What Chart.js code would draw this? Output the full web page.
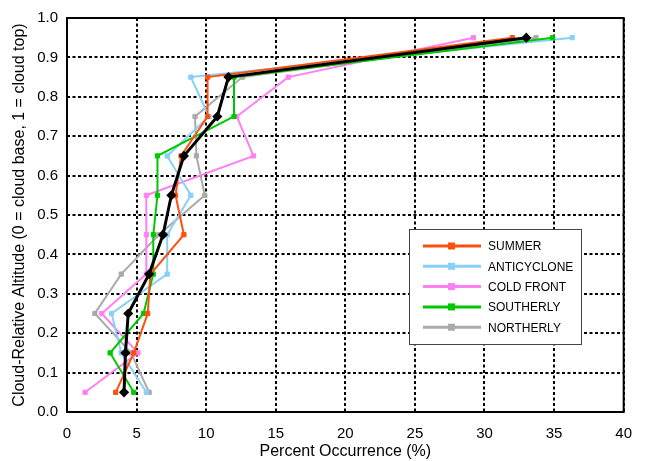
<!DOCTYPE html>
<html>
<head>
<meta charset="utf-8">
<script src="https://cdn.jsdelivr.net/npm/chart.js@4"></script>
<style>
  body { margin: 0; background: #fff; }
  canvas { display: block; }
</style>
</head>
<body>
<canvas id="profile" width="645" height="461"></canvas>
<script>
// altitude levels (cloud-relative), bin centres
const altitudes = [0.05, 0.15, 0.25, 0.35, 0.45, 0.55, 0.65, 0.75, 0.85, 0.95];

// percent occurrence per regime
const summer      = [3.5, 4.8, 5.8, 6.0, 8.4, 7.8, 8.2, 10.1, 10.1, 32.0];
const anticyclone = [5.7, 3.9, 3.2, 7.2, 7.2, 8.9, 7.2, 10.2, 8.9, 36.3];
const coldFront   = [1.3, 5.1, 2.5, 5.7, 5.7, 5.7, 13.4, 12.2, 15.9, 29.2];
const southerly   = [4.8, 3.1, 5.5, 6.2, 6.2, 6.5, 6.5, 12.0, 12.0, 34.9];
const northerly   = [5.9, 4.6, 2.0, 3.9, 6.6, 9.9, 9.3, 9.2, 12.6, 33.7];
const allCases    = [4.1, 4.2, 4.4, 5.9, 6.9, 7.5, 8.4, 10.8, 11.6, 33.0];

const xTicks = [0, 5, 10, 15, 20, 25, 30, 35, 40];
const yTicks = [0, 0.1, 0.2, 0.3, 0.4, 0.5, 0.6, 0.7, 0.8, 0.9, 1.0];

const FONT = "'Liberation Sans', Arial, sans-serif";

function pts(vals) {
  return vals.map((v, i) => ({ x: v, y: altitudes[i] }));
}

function series(label, vals, color, order) {
  return {
    label: label,
    data: pts(vals),
    borderColor: color,
    backgroundColor: color,
    borderWidth: 2,
    pointStyle: "rect",
    pointRadius: 3,
    pointBorderWidth: 1,
    tension: 0,
    order: order,
  };
}

const datasets = [
  {
    label: "ALL",
    data: pts(allCases),
    borderColor: "#000",
    backgroundColor: "#000",
    borderWidth: 3,
    pointStyle: "rectRot",
    pointRadius: 3,
    tension: 0,
    order: 0,
    inLegend: false,
  },
  series("SUMMER", summer, "#ff4f0f", 1),
  series("ANTICYCLONE", anticyclone, "#87d0f8", 3),
  series("COLD FRONT", coldFront, "#ff80f2", 4),
  series("SOUTHERLY", southerly, "#00c800", 2),
  series("NORTHERLY", northerly, "#aaaaaa", 5),
];

// frame round the plot + legend box inside it
const framePlugin = {
  id: "frame",
  afterDatasetsDraw(chart) {
    const c = chart.ctx;
    const a = chart.chartArea;

    // legend
    const lx = 409, ly = 229, lw = 172, lh = 115;
    c.save();
    c.fillStyle = "#fff";
    c.fillRect(lx, ly, lw, lh);
    c.strokeStyle = "#444";
    c.lineWidth = 1;
    c.strokeRect(lx + 0.5, ly + 0.5, lw, lh);
    const items = chart.data.datasets.filter(d => d.inLegend !== false);
    c.font = "12px " + FONT;
    c.textBaseline = "middle";
    items.forEach((d, i) => {
      const y = ly + 17 + i * 20.3;
      c.strokeStyle = d.borderColor;
      c.lineWidth = 3;
      c.beginPath();
      c.moveTo(lx + 14, y);
      c.lineTo(lx + 72, y);
      c.stroke();
      c.fillStyle = d.borderColor;
      c.fillRect(lx + 39, y - 3.5, 7, 7);
      c.fillStyle = "#000";
      c.fillText(d.label, lx + 79, y + 1);
    });

    c.strokeStyle = "#000";
    c.lineWidth = 2;
    c.strokeRect(a.left, a.top, a.right - a.left, a.bottom - a.top);
    c.restore();
  },
};

const gridOpts = {
  color: "#000",
  lineWidth: 2,
  drawTicks: false,
};

new Chart(document.getElementById("profile").getContext("2d"), {
  type: "line",
  data: { datasets: datasets },
  options: {
    responsive: false,
    animation: false,
    layout: { padding: { top: 10, right: 7, bottom: 0, left: 0 } },
    plugins: {
      legend: { display: false },
      tooltip: { enabled: false },
    },
    scales: {
      x: {
        type: "linear",
        min: 0,
        max: 40,
        afterFit(scale) { scale.height = 49; },
        afterBuildTicks(scale) { scale.ticks = xTicks.map(v => ({ value: v })); },
        grid: gridOpts,
        border: { display: false, dash: [3, 2.5] },
        ticks: {
          padding: 13,
          color: "#000",
          font: { family: FONT, size: 15 },
        },
        title: {
          display: true,
          text: "Percent Occurrence (%)",
          color: "#000",
          font: { family: FONT, size: 16 },
          padding: { top: 0, bottom: 0 },
        },
      },
      y: {
        type: "linear",
        min: 0,
        max: 1,
        afterFit(scale) { scale.width = 67; },
        afterBuildTicks(scale) { scale.ticks = yTicks.map(v => ({ value: v })); },
        grid: gridOpts,
        border: { display: false, dash: [3, 2.5] },
        ticks: {
          padding: 9,
          color: "#000",
          font: { family: FONT, size: 15 },
          callback: v => Number(v).toFixed(1),
        },
        title: {
          display: true,
          text: "Cloud-Relative Altitude (0 = cloud base, 1 = cloud top)",
          color: "#000",
          font: { family: FONT, size: 16 },
          padding: { top: 10, bottom: 0 },
        },
      },
    },
  },
  plugins: [framePlugin],
});
</script>
</body>
</html>
